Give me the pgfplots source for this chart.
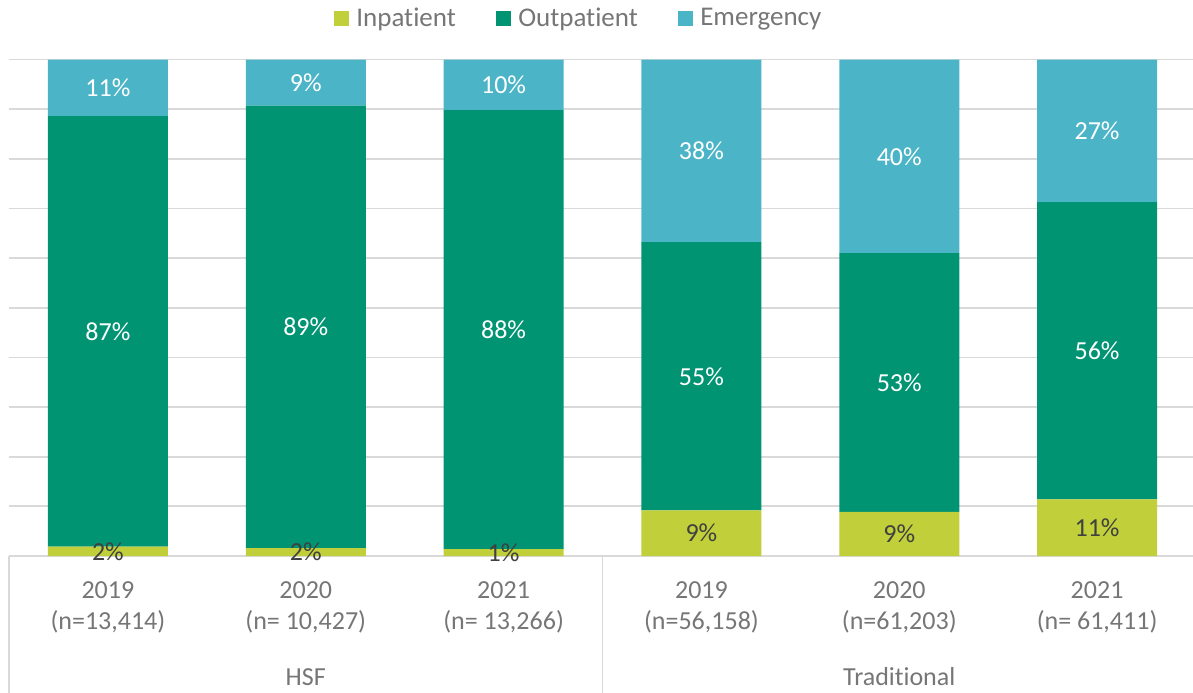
\documentclass[border=0pt]{standalone}
\usepackage{fontspec}
\setmainfont{Carlito}[Ligatures=NoCommon]
\usepackage{pgfplots}
\usepackage{pgfplotstable}
\pgfplotsset{compat=1.18}
\definecolor{cInp}{RGB}{192,207,58}
\definecolor{cOut}{RGB}{0,148,115}
\definecolor{cEmg}{RGB}{75,181,199}
\definecolor{cGrid}{RGB}{217,217,217}
\definecolor{cTxt}{RGB}{118,118,118}
\definecolor{cDark}{RGB}{64,64,64}

% bar heights (100% stacked shares)
\pgfplotstableread{
x inp out emg
0 1.9 86.7 11.4
1 1.6 89.1 9.3
2 1.4 88.4 10.2
3 9.2 54.0 36.8
4 8.9 52.1 39.0
5 11.4 59.9 28.7
}\bars

% label positions (segment middles) and printed values
\pgfplotstableread{
x y lab
0 0.95 2
1 0.80 2
2 0.70 1
3 4.60 9
4 4.45 9
5 5.70 11
}\labdark
\pgfplotstableread{
x y lab
0 45.25 87
1 46.15 89
2 45.60 88
3 36.20 55
4 34.95 53
5 41.35 56
0 94.30 11
1 95.35 9
2 94.90 10
3 81.60 38
4 80.50 40
5 85.65 27
}\labwhite

\newcommand{\lblfont}{\fontsize{13}{15.5}\selectfont}

\begin{document}
\begin{tikzpicture}
\pgfplotsset{
  base/.style={
    scale only axis,
    width=593.5pt, height=248.25pt,
    xmin=-0.5, xmax=5.5, ymin=0, ymax=100,
  }
}
\begin{axis}[
    base,
    ybar stacked,
    bar width=60pt,
    clip=false,
    axis line style={draw=none},
    ytick={0,10,...,100}, yticklabels={},
    ymajorgrids, grid style={cGrid, line width=0.9pt},
    xtick={0,...,5},
    xticklabels={{2019\\(n=13,414)},{2020\\(n= 10,427)},{2021\\(n= 13,266)},
                 {2019\\(n=56,158)},{2020\\(n=61,203)},{2021\\(n= 61,411)}},
    xticklabel style={align=center, anchor=center, yshift=-25.75pt,
                      font=\lblfont, text=cTxt},
    tick style={draw=none},
    legend columns=3,
    legend style={at={(0.482,1.082)}, anchor=center, draw=none, fill=none,
                  inner sep=0pt, font=\fontsize{13.5}{16}\selectfont,
                  text=cTxt,
                  /tikz/every even column/.append style={column sep=16.5pt},
                  nodes={inner xsep=3.5pt}},
    legend image code/.code={\fill[#1] (0pt,-3.85pt) rectangle (7.7pt,3.85pt);},
  ]
\addplot[fill=cInp, draw=none] table[x=x, y=inp] {\bars};
\addplot[fill=cOut, draw=none] table[x=x, y=out] {\bars};
\addplot[fill=cEmg, draw=none] table[x=x, y=emg] {\bars};
\legend{Inpatient, Outpatient, Emergency}

\draw[cGrid, line width=0.9pt] (axis cs:-0.5,0) -- ([yshift=-70pt]axis cs:-0.5,0);
\draw[cGrid, line width=0.9pt] (axis cs:2.5,0) -- ([yshift=-70pt]axis cs:2.5,0);
\node[text=cTxt, font=\lblfont] at ([yshift=-60.5pt]axis cs:1,0) {HSF};
\node[text=cTxt, font=\lblfont] at ([yshift=-60.5pt]axis cs:4,0) {Traditional};
\end{axis}

\begin{axis}[base, hide axis]
\addplot[draw=none, nodes near coords={\pgfplotspointmeta\%},
  point meta=explicit symbolic,
  every node near coord/.style={anchor=center, text=cDark, font=\lblfont}]
  table[x=x, y=y, meta=lab] {\labdark};
\addplot[draw=none, nodes near coords={\pgfplotspointmeta\%},
  point meta=explicit symbolic,
  every node near coord/.style={anchor=center, text=white, font=\lblfont}]
  table[x=x, y=y, meta=lab] {\labwhite};
\end{axis}

\pgfresetboundingbox
\useasboundingbox (-4.5pt,-68pt) rectangle (592pt,278pt);
\end{tikzpicture}
\end{document}
